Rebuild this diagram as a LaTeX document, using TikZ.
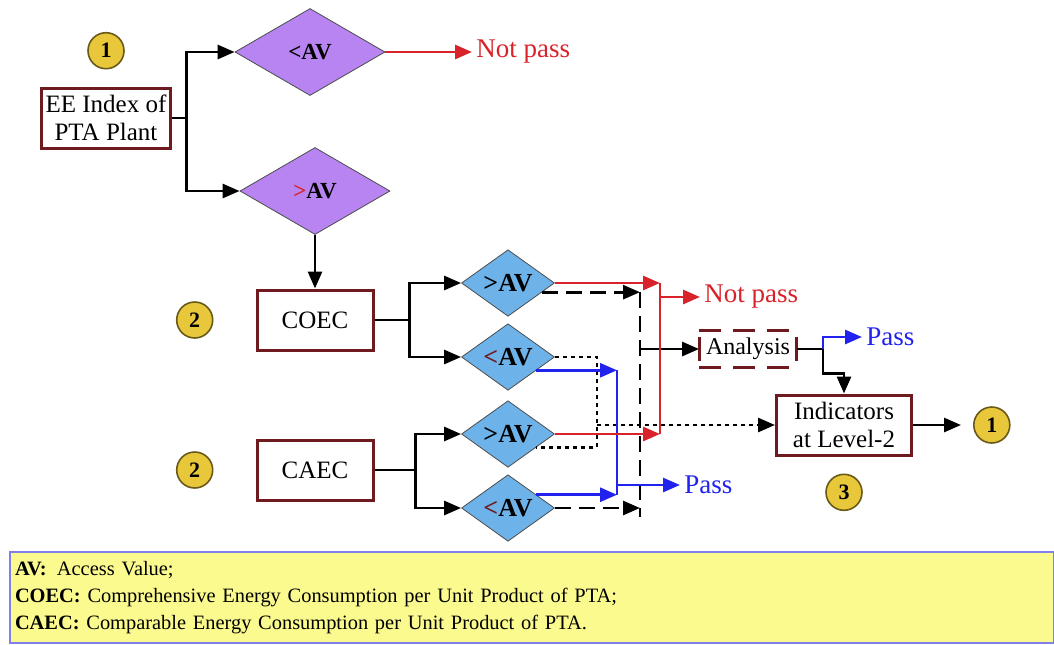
\documentclass[tikz,border=0pt]{standalone}
\usepackage{fontspec}
\setmainfont{Liberation Serif}
\usepackage{tikz}
\usetikzlibrary{arrows.meta,calc,positioning,shapes.geometric}
\definecolor{BoxRed}{HTML}{6E1A1E}
\definecolor{LavFill}{HTML}{B784F2}
\definecolor{SkyFill}{HTML}{6DB3EA}
\definecolor{PassBlue}{HTML}{2222EE}
\definecolor{FailRed}{HTML}{D8232A}
\definecolor{BadgeGold}{HTML}{E9C73A}
\definecolor{NoteYellow}{HTML}{FBFA8E}
\definecolor{NoteEdge}{HTML}{8080E8}

\begin{document}
\begin{tikzpicture}[x=0.5pt,y=-0.5pt,
    box/.style={rectangle,draw=BoxRed,line width=1.5pt,fill=white,
      minimum width=58pt,minimum height=30pt,inner sep=2pt,
      font=\fontsize{12.5}{14}\selectfont,align=center},
    bigdec/.style={diamond,draw=black!70,fill=LavFill,inner sep=0pt,
      minimum width=75pt,minimum height=43.5pt,
      font=\bfseries\fontsize{11.5}{13}\selectfont},
    smalldec/.style={diamond,draw=black!70,fill=SkyFill,inner sep=0pt,
      minimum width=46.5pt,minimum height=28.5pt,
      font=\bfseries\fontsize{13}{14}\selectfont},
    badge/.style={circle,draw=black!55!BadgeGold,line width=0.8pt,fill=BadgeGold,
      minimum size=18pt,inner sep=0pt,font=\bfseries\fontsize{11}{12}\selectfont},
    outcome/.style={inner sep=2pt,anchor=west,font=\fontsize{13.5}{15}\selectfont},
    legend/.style={rectangle,fill=NoteYellow,draw=NoteEdge,line width=1pt,
      minimum width=522pt,minimum height=45.5pt,text width=517pt,
      align=left,inner sep=1.5pt,font=\fontsize{10.2}{13.5}\selectfont},
    conn/.style={line width=1.4pt},
    arr/.style={-{Triangle[length=8.5pt,width=7pt]},line width=1.4pt},
    redline/.style={conn,draw=FailRed},
    redarr/.style={arr,draw=FailRed},
    blueline/.style={conn,draw=PassBlue},
    bluearr/.style={arr,draw=PassBlue},
    dashline/.style={conn,dash pattern=on 8pt off 4pt},
    dasharr/.style={arr,dash pattern=on 8pt off 4pt},
    dotline/.style={conn,dash pattern=on 2pt off 2pt},
    dotarr/.style={arr,dash pattern=on 2pt off 2pt},
    anadash/.style={draw=BoxRed,line width=1.5pt,dash pattern=on 11pt off 6pt},
    anabar/.style={draw=BoxRed,line width=1.5pt}
  ]
    \useasboundingbox (0,0) rectangle (1054,644);

    % level 1
    \node[box] (ee) at (106,118) {EE Index of\\PTA Plant};
    \node[badge,above=8.5pt of ee] (b1) {1};
    \node[bigdec] (lav) at (310,52) {<AV};
    \node[bigdec] (gav) at (315,191) {\textcolor{FailRed}{>}AV};
    \node[outcome,text=FailRed] (np1) at (472,52) {Not pass};

    % level 2
    \node[box] (coec) at (315,320) {COEC};
    \node[box] (caec) at (315,470) {CAEC};
    \node[badge,left=21pt of coec] (b2a) {2};
    \node[badge,left=21pt of caec] (b2b) {2};
    \node[smalldec] (d1) at (508,283) {>AV};
    \node[smalldec] (d2) at (508,357) {\textcolor{BoxRed}{<}AV};
    \node[smalldec] (d3) at (508,434) {>AV};
    \node[smalldec] (d4) at (508,508) {\textcolor{BoxRed}{<}AV};
    \node[outcome,text=FailRed] (np2) at (700,297) {Not pass};
    \node[outcome,text=PassBlue] (pass1) at (680,485) {Pass};

    % level 3
    \node[box,minimum width=67.5pt] (ind) at (844,425) {Indicators\\at Level-2};
    \node[badge,below=8.5pt of ind] (b3) {3};
    \node[badge,right=30pt of ind] (b1r) {1};
    \node[inner sep=0pt,minimum width=48.5pt,minimum height=18.5pt,
      font=\fontsize{12}{13}\selectfont] (ana) at (748,349) {Analysis};
    \node[outcome,text=PassBlue] (pass2) at (862,337) {Pass};

    \coordinate (rj) at (660,283);
    \coordinate (kj) at (640,293);
    \coordinate (bj) at (617,368);
    \coordinate (dt) at (597,425);
    \coordinate (aj) at (823,349);

    \draw[arr] (ee.east) -- ++(15,0) |- (lav.west);
    \draw[arr] (ee.east) -- ++(15,0) |- (gav.west);
    \draw[redarr] (lav.east) -- (np1.west);
    \draw[arr] (gav.south) -- (coec.north);

    \draw[arr] (coec.east) -- ++(35,0) |- (d1.west);
    \draw[arr] (coec.east) -- ++(35,0) |- (d2.west);
    \draw[arr] (caec.east) -- ++(41,0) |- (d3.west);
    \draw[arr] (caec.east) -- ++(41,0) |- (d4.west);

    % dashed: go to analysis
    \draw[dasharr] (d1.-15) -- (d1.-15 -| kj);
    \draw[dasharr] (d4.east) -- (d4.east -| kj);
    \draw[dashline] (d1.-15 -| kj) -- ($(d4.east -| kj)+(0,9)$);
    \draw[arr] (ana.west -| kj) -- (ana.west);

    % dotted: straight to level 3
    \draw[dotline] (d2.east) -| (dt) |- (d3.-25);
    \draw[dotarr] (dt) -- (ind.west);

    % blue: pass
    \draw[bluearr] (d2.-25) -- (d2.-25 -| bj);
    \draw[bluearr] (d4.25) -- (d4.25 -| bj);
    \draw[blueline] (d2.-25 -| bj) -- (d4.25 -| bj);
    \draw[bluearr] (pass1.west -| bj) -- (pass1.west);

    % red: not pass
    \draw[redarr] (d1.east) -- (d1.east -| rj);
    \draw[redarr] (d3.east) -- (d3.east -| rj);
    \draw[redline] (d1.east -| rj) -- (d3.east -| rj);
    \draw[redarr] (np2.west -| rj) -- (np2.west);

    % analysis box
    \draw[anadash] (ana.north west) -- (ana.north east);
    \draw[anadash] (ana.south west) -- (ana.south east);
    \draw[anabar] ([yshift=-3.5pt]ana.north west) -- ([yshift=3.5pt]ana.south west);
    \draw[anabar] ([yshift=-3.5pt]ana.north east) -- ([yshift=3.5pt]ana.south east);
    \draw[conn] (ana.east) -- (aj);
    \draw[bluearr] (aj) |- (pass2.west);
    \draw[arr] (aj) |- ($(ind.north)+(0,-20)$) -- (ind.north);
    \draw[arr,shorten >=6pt] (ind.east) -- (b1r.west);

    \node[legend,anchor=north west] (key) at (9,551)
      {\textbf{AV:}\enspace Access Value;\\
       \textbf{COEC:} Comprehensive Energy Consumption per Unit Product of PTA;\\
       \textbf{CAEC:} Comparable Energy Consumption per Unit Product of PTA.};
  \end{tikzpicture}
\end{document}
